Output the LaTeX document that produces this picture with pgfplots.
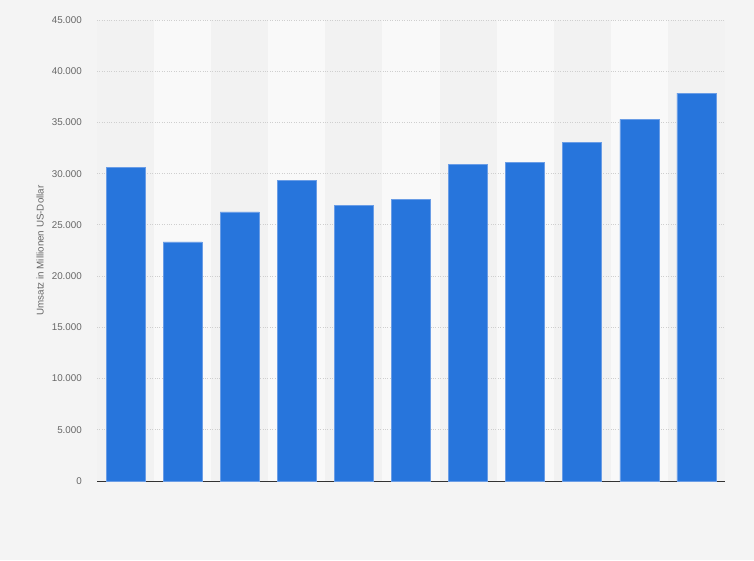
\documentclass[border=0pt]{standalone}
\usepackage{pgfplots}
\pgfplotsset{compat=1.18}
\usepackage{fontspec}
\setmainfont{Liberation Sans}
\definecolor{bg}{HTML}{F4F4F4}
\definecolor{bandA}{HTML}{F2F2F2}
\definecolor{bandB}{HTML}{F9F9F9}
\definecolor{barblue}{HTML}{2775DC}
\definecolor{baredge}{HTML}{6A9DE6}
\definecolor{tickgray}{HTML}{666666}
\definecolor{gridgray}{HTML}{CFCFCF}
\begin{document}
\begin{tikzpicture}
\fill[bg] (0pt,0pt) rectangle (754pt,560pt);
\useasboundingbox (0pt,0pt) rectangle (754pt,560pt);
\begin{scope}[x=1pt,y=1pt]
\fill[bandA] (97,79) rectangle (725,540);
\foreach \k in {1,3,5,7,9} {
  \fill[bandB] ({97+57.0909*\k},79) rectangle ({97+57.0909*(\k+1)},540);
}
\end{scope}
\begin{axis}[
  at={(97pt,79pt)}, anchor=south west,
  scale only axis, width=628pt, height=461pt,
  xmin=-0.5, xmax=10.5, ymin=0, ymax=45000,
  axis x line*=bottom, axis y line*=left,
  x axis line style={draw=black!80, line width=1pt},
  y axis line style={draw=none},
  xtick=\empty,
  scaled y ticks=false,
  ytick={0,5000,10000,15000,20000,25000,30000,35000,40000,45000},
  yticklabels={0,5.000,10.000,15.000,20.000,25.000,30.000,35.000,40.000,45.000},
  ymajorgrids,
  grid style={gridgray, dotted, line width=0.8pt},
  major tick length=0pt,
  ytick style={draw=none},
  yticklabel style={font=\fontsize{9.8}{11}\selectfont, text=tickgray, anchor=east, inner sep=0pt, xshift=-15pt},
  ylabel={Umsatz in Millionen US-Dollar},
  every axis y label/.style={at={(axis description cs:0,0.5)}, rotate=90, anchor=center, yshift=57pt, font=\fontsize{9.8}{11}\selectfont, text=tickgray},
  clip=false,
]
\addplot[ybar, bar width=39pt, fill=barblue, draw=baredge, line width=0.6pt]
  coordinates {(0,30620) (1,23330) (2,26260) (3,29330) (4,26920) (5,27520) (6,30920) (7,31110) (8,33060) (9,35310) (10,37850)};
\end{axis}
\end{tikzpicture}
\end{document}
